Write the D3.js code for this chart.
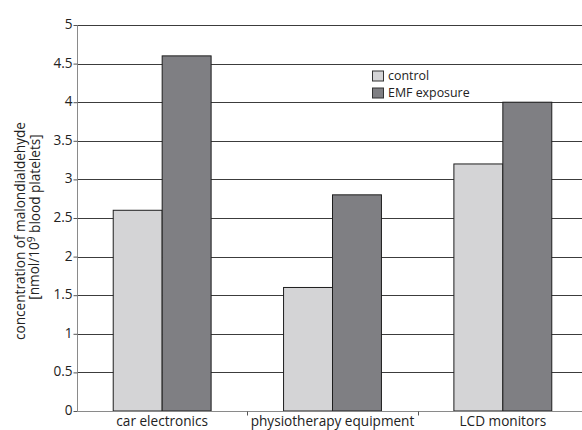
<!DOCTYPE html>
<html>
<head>
<meta charset="utf-8">
<script src="https://cdn.jsdelivr.net/npm/d3@7"></script>
<style>
  html, body { margin: 0; padding: 0; background: #fff; }
  svg { display: block; }
  text { font-family: "Open Sans", Carlito, Calibri, sans-serif; fill: #222; }
</style>
</head>
<body>
<svg id="chart" width="582" height="430"></svg>
<script>
// Malondialdehyde concentration by device group
const categories = ["car electronics", "physiotherapy equipment", "LCD monitors"];
const seriesNames = ["control", "EMF exposure"];
const controlValues = [2.6, 1.6, 3.2];
const emfValues = [4.6, 2.8, 4.0];
const yTicks = [0, 0.5, 1, 1.5, 2, 2.5, 3, 3.5, 4, 4.5, 5];
const seriesColors = ["#d4d4d6", "#7f7f83"];

const rows = categories.map((c, i) => ({ category: c, values: [controlValues[i], emfValues[i]] }));

const svg = d3.select("#chart");
const plotLeft = 77, plotRight = 588, plotTop = 25, plotBottom = 411;
const fontSize = "13.6px";

const x0 = d3.scaleBand().domain(categories).range([plotLeft, plotRight]).padding(0);
const x1 = d3.scaleBand().domain(seriesNames).range([0, x0.bandwidth()]).paddingInner(0).paddingOuter(0.74);
const y = d3.scaleLinear().domain([0, 5]).range([plotBottom, plotTop]);
const color = d3.scaleOrdinal().domain(seriesNames).range(seriesColors);

// horizontal gridlines
svg.append("g")
  .selectAll("line")
  .data(yTicks.filter(t => t > 0))
  .join("line")
  .attr("x1", plotLeft).attr("x2", 582)
  .attr("y1", d => Math.round(y(d)) + 0.5).attr("y2", d => Math.round(y(d)) + 0.5)
  .attr("stroke", "#3c3c3c").attr("stroke-width", 1);

// bars
const groups = svg.append("g").selectAll("g")
  .data(rows)
  .join("g")
  .attr("transform", d => `translate(${x0(d.category)},0)`);

groups.selectAll("rect")
  .data(d => d.values.map((v, i) => ({ key: seriesNames[i], value: v })))
  .join("rect")
  .attr("x", d => x1(d.key))
  .attr("y", d => y(d.value))
  .attr("width", x1.bandwidth())
  .attr("height", d => y(0) - y(d.value))
  .attr("fill", d => color(d.key))
  .attr("stroke", "#1e1e1e")
  .attr("stroke-width", 1);

// y axis
const yAxis = d3.axisLeft(y).tickValues(yTicks).tickSize(4).tickPadding(1)
  .tickFormat(d => String(d));
const yg = svg.append("g").attr("transform", `translate(${plotLeft + 0.5},0)`).call(yAxis);
yg.select(".domain").attr("stroke", "#8a8a8a").attr("d", `M0,${plotTop}V${plotBottom}`);
yg.selectAll(".tick line").attr("stroke", "#555");
yg.selectAll(".tick text").style("font-size", fontSize).attr("fill", "#222").attr("dy", "0.25em");

// x axis
const xAxis = d3.axisBottom(x0).tickSize(0).tickPadding(5);
const xg = svg.append("g").attr("transform", `translate(0,${plotBottom + 0.5})`).call(xAxis);
xg.select(".domain").attr("stroke", "#8a8a8a").attr("d", `M${plotLeft},0H582`);
xg.selectAll(".tick text").style("font-size", fontSize).attr("fill", "#222").attr("dy", "0.71em");
// category separator ticks
xg.append("g").selectAll("line")
  .data(categories.slice(1))
  .join("line")
  .attr("x1", d => Math.round(x0(d)) + 0.5).attr("x2", d => Math.round(x0(d)) + 0.5)
  .attr("y1", 0).attr("y2", 4)
  .attr("stroke", "#555");

// y axis title, two lines
svg.append("text")
  .attr("transform", "translate(25,231) rotate(-90)")
  .attr("text-anchor", "middle")
  .style("font-size", fontSize)
  .text("concentration of malondialdehyde");
const line2 = svg.append("text")
  .attr("transform", "translate(38.5,217) rotate(-90)")
  .attr("text-anchor", "middle")
  .style("font-size", fontSize);
line2.append("tspan").text("[nmol/10");
line2.append("tspan").attr("dy", "-0.4em").style("font-size", "10px").text("9");
line2.append("tspan").attr("dy", "0.4em").text(" blood platelets]");

// legend
const legendRow = 17;
const legend = svg.append("g").attr("transform", "translate(372,70.5)");
const items = legend.selectAll("g").data(seriesNames).join("g")
  .attr("transform", (d, i) => `translate(0,${i * legendRow})`);
items.append("rect")
  .attr("x", 0.5).attr("y", 0.5).attr("width", 11).attr("height", 10)
  .attr("fill", d => color(d)).attr("stroke", "#333");
items.append("text")
  .attr("x", 16).attr("y", 5.5).attr("dy", "0.35em")
  .style("font-size", "12.4px")
  .text(d => d);
</script>
</body>
</html>
